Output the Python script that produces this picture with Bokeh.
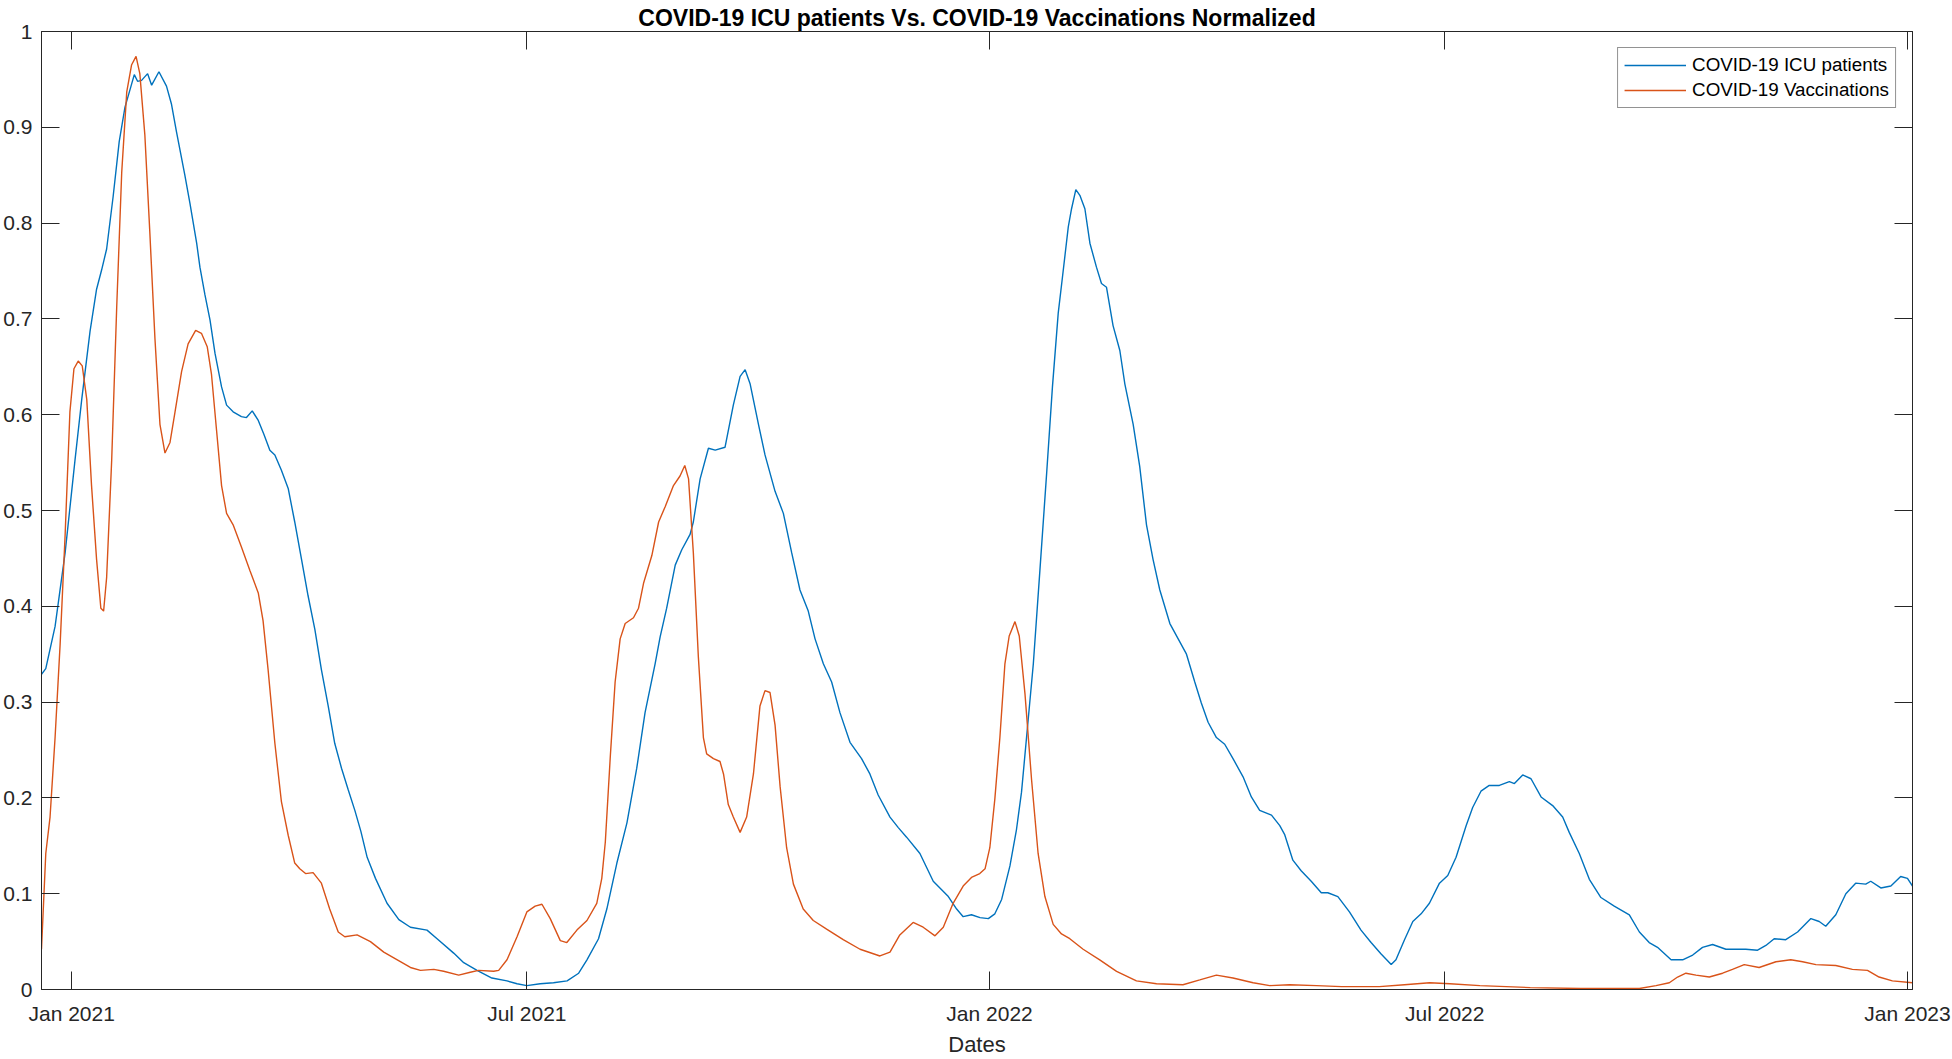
import pandas as pd
from bokeh.plotting import figure
from bokeh.models import (Range1d, FixedTicker, DatetimeAxis, LinearAxis,
                          DatetimeTickFormatter, PrintfTickFormatter,
                          Legend, LegendItem)
from bokeh.embed import file_html
from bokeh.resources import INLINE

# ---------------- data (day offset from start_date, normalized value) ----------------
start_date = "2021-01-01"

icu_points = [
    (-12, 0.329), (-10.3, 0.335), (-6.6, 0.379), (-2.6, 0.456), (1.3, 0.552), (4.0, 0.616),
    (7.3, 0.687), (9.9, 0.731), (11.9, 0.751), (13.9, 0.773), (16.5, 0.828), (18.9, 0.885),
    (21.2, 0.921), (23.6, 0.943), (24.9, 0.955), (26.2, 0.948), (27.8, 0.949), (30.2, 0.956),
    (31.8, 0.944), (34.7, 0.958), (37.7, 0.943), (39.7, 0.924), (41.7, 0.895), (45.0, 0.850),
    (47.0, 0.821), (49.7, 0.779), (51.0, 0.754), (53.0, 0.725), (55.0, 0.699), (57.0, 0.664),
    (59.6, 0.629), (61.6, 0.610), (64.2, 0.603), (67.5, 0.598), (69.5, 0.597), (71.8, 0.604),
    (74.2, 0.594), (76.5, 0.579), (78.8, 0.563), (80.8, 0.558), (83.4, 0.542), (86.1, 0.523),
    (88.7, 0.488), (91.4, 0.449), (94.0, 0.411), (96.7, 0.376), (99.3, 0.334), (102.0, 0.296),
    (104.6, 0.257), (107.3, 0.231), (109.9, 0.209), (112.6, 0.187), (115.0, 0.165), (117.5, 0.138),
    (120.8, 0.116), (125.4, 0.090), (130.1, 0.073), (134.7, 0.065), (141.3, 0.062), (145.3, 0.053),
    (151.9, 0.038), (155.9, 0.028), (161.2, 0.020), (167.1, 0.012), (173.1, 0.009), (177.1, 0.006),
    (181.0, 0.004), (186.3, 0.006), (191.6, 0.007), (197.0, 0.009), (201.6, 0.017), (204.9, 0.031),
    (209.5, 0.053), (212.8, 0.084), (216.8, 0.132), (220.8, 0.174), (224.7, 0.231), (228.0, 0.289),
    (232.0, 0.340), (234.0, 0.368), (236.6, 0.398), (240.0, 0.443), (242.6, 0.459), (245.9, 0.475),
    (247.2, 0.488), (249.9, 0.533), (253.2, 0.565), (255.9, 0.563), (259.8, 0.566), (263.1, 0.610),
    (265.8, 0.640), (267.8, 0.647), (269.8, 0.632), (273.1, 0.590), (275.7, 0.558), (279.7, 0.520),
    (283.0, 0.497), (286.3, 0.456), (289.6, 0.417), (292.9, 0.395), (295.6, 0.366), (298.9, 0.340),
    (302.2, 0.321), (305.5, 0.289), (309.5, 0.258), (314.1, 0.241), (317.4, 0.225), (320.7, 0.203),
    (325.4, 0.180), (328.7, 0.169), (332.0, 0.159), (337.3, 0.142), (342.6, 0.113), (348.6, 0.097),
    (351.9, 0.084), (354.5, 0.076), (357.8, 0.078), (361.2, 0.075), (364.5, 0.074), (367.1, 0.079),
    (369.8, 0.094), (373.1, 0.129), (375.7, 0.167), (377.7, 0.206), (379.7, 0.263), (382.4, 0.340),
    (385.0, 0.437), (387.7, 0.539), (390.0, 0.629), (392.3, 0.706), (394.0, 0.744), (396.3, 0.796),
    (397.6, 0.815), (399.3, 0.835), (400.9, 0.829), (402.9, 0.815), (404.9, 0.779), (407.5, 0.754),
    (409.5, 0.737), (411.5, 0.733), (414.1, 0.693), (416.8, 0.667), (418.8, 0.632), (422.1, 0.590),
    (424.7, 0.546), (427.4, 0.485), (430.0, 0.449), (432.7, 0.417), (436.7, 0.382), (440.0, 0.366),
    (443.3, 0.350), (446.6, 0.321), (449.2, 0.299), (451.9, 0.279), (455.2, 0.263), (458.5, 0.256),
    (461.8, 0.241), (465.8, 0.222), (469.1, 0.201), (472.4, 0.187), (477.1, 0.182), (480.4, 0.171),
    (482.3, 0.162), (485.6, 0.135), (488.9, 0.124), (492.9, 0.113), (496.9, 0.101), (499.5, 0.101),
    (503.5, 0.097), (508.1, 0.081), (512.7, 0.062), (516.7, 0.049), (520.7, 0.037), (524.7, 0.026),
    (526.6, 0.031), (530.0, 0.052), (533.3, 0.071), (536.6, 0.079), (539.9, 0.090), (543.9, 0.111),
    (547.2, 0.119), (550.5, 0.138), (554.5, 0.171), (557.1, 0.190), (560.4, 0.207), (563.7, 0.213),
    (567.7, 0.213), (571.7, 0.217), (573.7, 0.215), (577.0, 0.224), (580.3, 0.220), (584.3, 0.201),
    (588.9, 0.192), (592.9, 0.180), (595.5, 0.164), (599.5, 0.142), (603.5, 0.115), (608.1, 0.096),
    (613.4, 0.087), (619.4, 0.078), (623.4, 0.060), (627.3, 0.049), (630.6, 0.044), (636.0, 0.031),
    (640.6, 0.031), (644.6, 0.036), (648.5, 0.044), (652.5, 0.047), (657.8, 0.042), (665.7, 0.042),
    (670.4, 0.041), (673.7, 0.046), (677.0, 0.053), (681.6, 0.052), (686.3, 0.060), (691.6, 0.074),
    (694.9, 0.071), (697.5, 0.066), (701.5, 0.078), (705.5, 0.100), (709.4, 0.111), (713.4, 0.110),
    (715.4, 0.113), (719.4, 0.106), (723.4, 0.108), (727.3, 0.118), (730.0, 0.116), (732.0, 0.108),
]

vacc_points = [
    (-12, 0.042), (-10.3, 0.142), (-8.6, 0.180), (-6.6, 0.263), (-4.6, 0.360), (-2.6, 0.475),
    (-0.7, 0.603), (0.9, 0.648), (2.6, 0.656), (4.2, 0.651), (6.0, 0.616), (7.9, 0.526),
    (9.9, 0.449), (11.6, 0.398), (12.7, 0.395), (13.9, 0.430), (15.9, 0.552), (17.9, 0.712),
    (19.9, 0.853), (21.9, 0.937), (23.8, 0.965), (25.6, 0.974), (27.1, 0.956), (29.1, 0.892),
    (31.1, 0.789), (33.1, 0.680), (35.1, 0.590), (37.1, 0.560), (39.1, 0.571), (41.1, 0.603),
    (43.7, 0.645), (46.3, 0.674), (49.3, 0.688), (51.6, 0.685), (53.9, 0.671), (55.6, 0.642),
    (57.6, 0.584), (59.6, 0.526), (61.6, 0.497), (64.2, 0.485), (67.5, 0.462), (70.9, 0.437),
    (74.2, 0.414), (76.1, 0.385), (78.1, 0.334), (80.8, 0.257), (83.4, 0.196), (86.1, 0.161),
    (88.7, 0.132), (90.7, 0.126), (93.0, 0.121), (96.0, 0.122), (99.3, 0.111), (102.6, 0.084),
    (106.0, 0.060), (108.6, 0.055), (113.5, 0.057), (118.8, 0.050), (124.1, 0.039), (130.7, 0.029),
    (134.7, 0.023), (138.7, 0.020), (144.0, 0.021), (147.9, 0.019), (153.9, 0.015), (158.5, 0.018),
    (161.8, 0.020), (167.8, 0.019), (169.8, 0.020), (173.1, 0.031), (177.1, 0.055), (181.0, 0.081),
    (184.3, 0.087), (187.0, 0.089), (190.3, 0.074), (194.3, 0.051), (196.9, 0.049), (200.9, 0.062),
    (204.9, 0.072), (208.8, 0.090), (210.8, 0.116), (212.2, 0.154), (214.2, 0.244), (216.1, 0.321),
    (218.1, 0.366), (220.1, 0.382), (223.4, 0.388), (225.4, 0.398), (227.4, 0.424), (230.7, 0.453),
    (233.4, 0.488), (236.0, 0.504), (239.3, 0.526), (241.9, 0.536), (243.8, 0.547), (245.3, 0.533),
    (247.2, 0.456), (249.2, 0.347), (251.2, 0.263), (252.5, 0.246), (255.2, 0.241), (257.8, 0.238),
    (259.2, 0.225), (261.1, 0.193), (263.1, 0.180), (265.8, 0.164), (268.4, 0.180), (271.1, 0.225),
    (273.7, 0.296), (275.7, 0.312), (277.7, 0.310), (279.7, 0.276), (281.7, 0.212), (284.3, 0.148),
    (287.0, 0.110), (290.9, 0.084), (294.9, 0.072), (300.2, 0.063), (306.8, 0.052), (313.5, 0.042),
    (321.4, 0.035), (325.4, 0.039), (329.3, 0.057), (334.6, 0.070), (338.6, 0.065), (343.3, 0.056),
    (346.6, 0.065), (350.5, 0.090), (354.5, 0.108), (357.8, 0.117), (361.1, 0.121), (363.2, 0.126),
    (365.1, 0.148), (367.1, 0.199), (369.1, 0.263), (371.1, 0.340), (372.8, 0.369), (375.1, 0.384),
    (376.8, 0.369), (379.1, 0.308), (381.7, 0.219), (384.3, 0.142), (387.0, 0.097), (390.3, 0.068),
    (393.6, 0.058), (396.9, 0.053), (402.2, 0.042), (408.8, 0.031), (415.5, 0.019), (423.4, 0.009),
    (431.4, 0.006), (441.9, 0.005), (448.6, 0.010), (455.2, 0.015), (461.8, 0.012), (469.8, 0.007),
    (476.4, 0.004), (484.3, 0.005), (495.0, 0.004), (505.0, 0.003), (520.0, 0.003), (530.0, 0.005),
    (540.0, 0.007), (548.0, 0.006), (560.0, 0.004), (580.0, 0.002), (600.0, 0.001), (623.4, 0.001),
    (630.0, 0.004), (635.3, 0.007), (638.6, 0.013), (641.9, 0.017), (645.9, 0.015), (651.2, 0.013),
    (656.5, 0.017), (660.4, 0.021), (665.1, 0.026), (671.0, 0.023), (677.7, 0.029), (683.6, 0.031),
    (688.3, 0.029), (693.6, 0.026), (701.5, 0.025), (708.1, 0.021), (714.1, 0.020), (718.7, 0.013),
    (724.0, 0.009), (732.0, 0.007),
]

series_names = ["COVID-19 ICU patients", "COVID-19 Vaccinations"]
x_tick_dates = ["2021-01-01", "2021-07-01", "2022-01-01", "2022-07-01", "2023-01-01"]
x_tick_labels = ["Jan 2021", "Jul 2021", "Jan 2022", "Jul 2022", "Jan 2023"]
y_ticks = [0, 0.1, 0.2, 0.3, 0.4, 0.5, 0.6, 0.7, 0.8, 0.9, 1]
title_text = "COVID-19 ICU patients Vs. COVID-19 Vaccinations Normalized"
x_label_text = "Dates"

# ---------------- helpers ----------------
base = pd.Timestamp(start_date)


def split(points):
    days = [d for d, _ in points]
    vals = [v for _, v in points]
    dates = base + pd.to_timedelta(days, unit="D")
    return dates, vals


def to_ms(ts):
    return (pd.Timestamp(ts) - pd.Timestamp("1970-01-01")) / pd.Timedelta(milliseconds=1)


icu_x, icu_y = split(icu_points)
vac_x, vac_y = split(vacc_points)

# ---------------- style ----------------
FONT = "Liberation Sans"
AX = "#262626"
BLUE = "#0072BD"
ORANGE = "#D95319"

W, H = 1952, 1059
p = figure(width=W, height=H, output_backend="svg", toolbar_location=None,
           x_axis_type="datetime",
           x_range=Range1d(start=min(icu_x[0], vac_x[0]), end=max(icu_x[-1], vac_x[-1])),
           y_range=Range1d(0, 1),
           min_border_left=41, min_border_right=40, min_border_top=31, min_border_bottom=69)
p.background_fill_color = "white"
p.border_fill_color = "white"
p.outline_line_color = AX
p.outline_line_width = 1
p.xgrid.visible = False
p.ygrid.visible = False

# title
p.title.text = title_text
p.title.align = "center"
p.title.text_font = FONT
p.title.text_font_style = "bold"
p.title.text_font_size = "23px"
p.title.text_color = "black"
p.title.standoff = 1

r1 = p.line(icu_x, icu_y, line_color=BLUE, line_width=1.4)
r2 = p.line(vac_x, vac_y, line_color=ORANGE, line_width=1.4)

x_ticks_ms = [to_ms(d) for d in x_tick_dates]
xfmt = DatetimeTickFormatter(days="%b %Y", months="%b %Y", years="%b %Y")


def style_axis(ax, standoff):
    ax.axis_line_color = AX
    ax.axis_line_width = 1
    ax.major_tick_line_color = AX
    ax.major_tick_in = 18
    ax.major_tick_out = 0
    ax.minor_tick_line_color = None
    ax.major_label_text_font = FONT
    ax.major_label_text_color = AX
    ax.major_label_text_font_size = "21px"
    ax.major_label_standoff = standoff


xa = p.xaxis[0]
xa.ticker = FixedTicker(ticks=x_ticks_ms)
xa.formatter = xfmt
xa.major_label_overrides = {t: lab for t, lab in zip(x_ticks_ms, x_tick_labels)}
style_axis(xa, 12)
xa.axis_label = x_label_text
xa.axis_label_text_font = FONT
xa.axis_label_text_font_size = "22px"
xa.axis_label_text_font_style = "normal"
xa.axis_label_text_color = AX
xa.axis_label_standoff = 4

ya = p.yaxis[0]
ya.ticker = FixedTicker(ticks=y_ticks)
ya.formatter = PrintfTickFormatter(format="%g")
style_axis(ya, 9)


def mirror_axis(ax):
    # inward ticks only (minor ticks used so that no labels are drawn)
    ax.axis_line_color = AX
    ax.axis_line_width = 1
    ax.major_tick_line_color = None
    ax.minor_tick_line_color = AX
    ax.minor_tick_in = 18
    ax.minor_tick_out = 0
    ax.major_label_standoff = 0


top = DatetimeAxis(ticker=FixedTicker(ticks=[], minor_ticks=x_ticks_ms), formatter=xfmt)
mirror_axis(top)
p.add_layout(top, "above")
right = LinearAxis(ticker=FixedTicker(ticks=[], minor_ticks=y_ticks))
mirror_axis(right)
p.add_layout(right, "right")

legend = Legend(items=[LegendItem(label=series_names[0], renderers=[r1]),
                       LegendItem(label=series_names[1], renderers=[r2])],
                location="top_right", margin=16, padding=6, spacing=3,
                glyph_width=62, glyph_height=22, label_height=22, label_standoff=6,
                label_text_font=FONT, label_text_font_size="18.8px",
                label_text_color="black",
                border_line_color=AX, border_line_width=1,
                background_fill_color="white", background_fill_alpha=1)
p.add_layout(legend)

open("out.html", "w").write(file_html(p, INLINE))
